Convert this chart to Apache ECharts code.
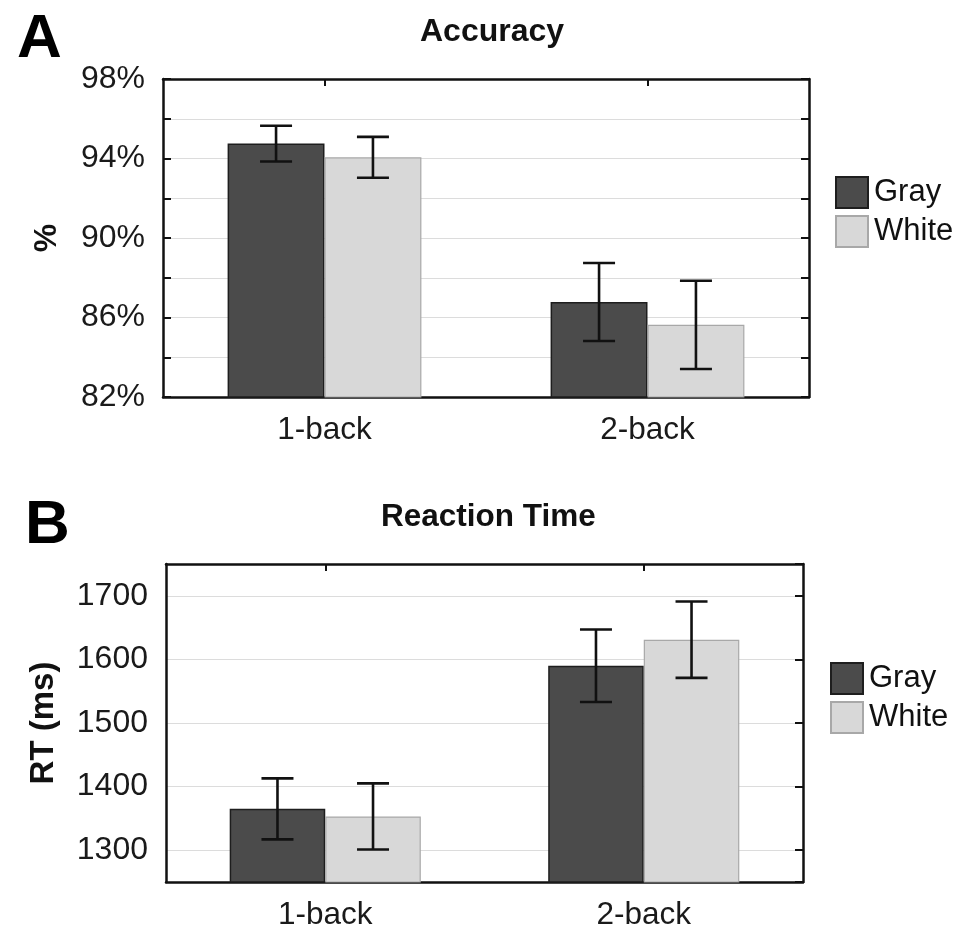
<!DOCTYPE html>
<html>
<head>
<meta charset="utf-8">
<script src="https://cdn.jsdelivr.net/npm/echarts@6/dist/echarts.min.js"></script>
<style>
html,body{margin:0;padding:0;background:#fff;}
#chart{width:960px;height:934px;}
</style>
</head>
<body>
<div id="chart"></div>
<script>
// ---- data ----
const categories = ['1-back', '2-back'];
const seriesNames = ['Gray', 'White'];

// Accuracy (%)
const accGray = [94.75, 86.78];
const accGrayErr = [0.9, 1.96];
const accWhite = [94.06, 85.63];
const accWhiteErr = [1.03, 2.22];

// Reaction time (ms)
const rtGray = [1365, 1590];
const rtGrayErr = [48, 57];
const rtWhite = [1353, 1631];
const rtWhiteErr = [52, 60];

const accTicks = [82, 86, 90, 94, 98];
const rtTicks = [1300, 1400, 1500, 1600, 1700];

// ---- styles ----
const FONT = "'Liberation Sans', Arial, sans-serif";
const GRAY_COLOR = '#4b4b4b';
const WHITE_COLOR = '#d8d8d8';
const AXIS_COLOR = '#111';
const GRID_COLOR = '#dcdcdc';
const LABEL_COLOR = '#1a1a1a';

function errData(vals, errs) {
  return vals.map((v, i) => [i, v - errs[i], v + errs[i]]);
}

function errRender(offsetFrac) {
  return function (params, api) {
    const idx = api.value(0);
    const lo = api.coord([idx, api.value(1)]);
    const hi = api.coord([idx, api.value(2)]);
    const bw = api.size([1, 0])[0];
    const x = lo[0] + bw * offsetFrac;
    const cap = 16;
    const style = { stroke: '#111', lineWidth: 2.6 };
    return {
      type: 'group',
      children: [
        { type: 'line', shape: { x1: x, y1: hi[1], x2: x, y2: lo[1] }, style: style },
        { type: 'line', shape: { x1: x - cap, y1: hi[1], x2: x + cap, y2: hi[1] }, style: style },
        { type: 'line', shape: { x1: x - cap, y1: lo[1], x2: x + cap, y2: lo[1] }, style: style }
      ]
    };
  };
}

const axisLine = { show: true, onZero: false, lineStyle: { color: AXIS_COLOR, width: 2.5 } };

function xAxes(gridIndex) {
  return [
    {
      type: 'category', gridIndex: gridIndex, data: categories, position: 'bottom',
      axisLine: axisLine, axisTick: { show: false },
      axisLabel: { fontFamily: FONT, fontSize: 31.5, color: LABEL_COLOR, margin: 17 }
    },
    {
      type: 'category', gridIndex: gridIndex, data: categories, position: 'top',
      axisLine: axisLine,
      axisTick: { show: true, inside: true, alignWithLabel: true, length: 7, lineStyle: { color: AXIS_COLOR, width: 2 } },
      axisLabel: { show: false }
    }
  ];
}

const legendText = { fontFamily: FONT, fontSize: 31, color: '#111', padding: [0, 0, 0, 1] };

const option = {
  animation: false,
  backgroundColor: '#fff',
  title: [
    { text: 'A', left: 12, top: 4, textStyle: { fontFamily: FONT, fontSize: 62, fontWeight: 'bold', color: '#000' } },
    { text: 'Accuracy', left: 415, top: 11, textStyle: { fontFamily: FONT, fontSize: 32, fontWeight: 'bold', color: '#111' } },
    { text: 'B', left: 20, top: 490, textStyle: { fontFamily: FONT, fontSize: 62, fontWeight: 'bold', color: '#000' } },
    { text: 'Reaction Time', left: 376, top: 496, textStyle: { fontFamily: FONT, fontSize: 31.5, fontWeight: 'bold', color: '#111' } }
  ],
  legend: [
    {
      orient: 'vertical', left: 830, top: 171, itemWidth: 32, itemHeight: 31, itemGap: 6,
      data: seriesNames, icon: 'rect', textStyle: legendText
    },
    {
      orient: 'vertical', left: 825, top: 657, itemWidth: 32, itemHeight: 31, itemGap: 6,
      data: seriesNames, icon: 'rect', textStyle: legendText
    }
  ],
  grid: [
    { left: 163, top: 79, width: 646, height: 318 },
    { left: 166, top: 564, width: 637, height: 318 }
  ],
  xAxis: [].concat(xAxes(0), xAxes(1)),
  yAxis: [
    {
      type: 'value', gridIndex: 0, min: 82, max: 98, interval: 2, position: 'left',
      name: '%', nameLocation: 'middle', nameGap: 100, nameRotate: 90,
      nameTextStyle: { fontFamily: FONT, fontSize: 32, fontWeight: 'bold', color: '#111' },
      axisLine: axisLine,
      axisTick: { show: true, inside: true, length: 8, lineStyle: { color: AXIS_COLOR, width: 2 } },
      axisLabel: {
        fontFamily: FONT, fontSize: 32, color: LABEL_COLOR, margin: 18,
        formatter: function (v) { return accTicks.indexOf(v) >= 0 ? v + '%' : ''; }
      },
      splitLine: { show: true, lineStyle: { color: GRID_COLOR, width: 1.2 } }
    },
    {
      type: 'value', gridIndex: 0, min: 82, max: 98, interval: 2, position: 'right',
      axisLine: axisLine,
      axisTick: { show: true, inside: true, length: 8, lineStyle: { color: AXIS_COLOR, width: 2 } },
      axisLabel: { show: false }, splitLine: { show: false }
    },
    {
      type: 'value', gridIndex: 1, min: 1250, max: 1750, splitNumber: 5, position: 'left',
      name: 'RT (ms)', nameLocation: 'middle', nameGap: 106, nameRotate: 90,
      nameTextStyle: { fontFamily: FONT, fontSize: 33, fontWeight: 'bold', color: '#111' },
      axisLine: axisLine,
      axisTick: { show: false },
      axisLabel: {
        fontFamily: FONT, fontSize: 32, color: LABEL_COLOR, margin: 18,
        formatter: function (v) { return rtTicks.indexOf(v) >= 0 ? String(v) : ''; }
      },
      splitLine: { show: true, lineStyle: { color: GRID_COLOR, width: 1.2 } }
    },
    {
      type: 'value', gridIndex: 1, min: 1250, max: 1750, splitNumber: 5, position: 'right',
      axisLine: axisLine,
      axisTick: { show: true, inside: true, length: 8, lineStyle: { color: AXIS_COLOR, width: 2 } },
      axisLabel: { show: false }, splitLine: { show: false }
    }
  ],
  series: [
    {
      name: 'Gray', type: 'bar', xAxisIndex: 0, yAxisIndex: 0, data: accGray,
      barWidth: '30%', barGap: '0%',
      itemStyle: { color: GRAY_COLOR, borderColor: '#1e1e1e', borderWidth: 1.5 }
    },
    {
      name: 'White', type: 'bar', xAxisIndex: 0, yAxisIndex: 0, data: accWhite,
      barWidth: '30%', barGap: '0%',
      itemStyle: { color: WHITE_COLOR, borderColor: '#a8a8a8', borderWidth: 1.2 }
    },
    {
      type: 'custom', xAxisIndex: 0, yAxisIndex: 0, data: errData(accGray, accGrayErr),
      encode: { x: 0, y: [1, 2] }, renderItem: errRender(-0.15), z: 5
    },
    {
      type: 'custom', xAxisIndex: 0, yAxisIndex: 0, data: errData(accWhite, accWhiteErr),
      encode: { x: 0, y: [1, 2] }, renderItem: errRender(0.15), z: 5
    },
    {
      name: 'Gray', type: 'bar', xAxisIndex: 2, yAxisIndex: 2, data: rtGray,
      barWidth: '30%', barGap: '0%',
      itemStyle: { color: GRAY_COLOR, borderColor: '#1e1e1e', borderWidth: 1.5 }
    },
    {
      name: 'White', type: 'bar', xAxisIndex: 2, yAxisIndex: 2, data: rtWhite,
      barWidth: '30%', barGap: '0%',
      itemStyle: { color: WHITE_COLOR, borderColor: '#a8a8a8', borderWidth: 1.2 }
    },
    {
      type: 'custom', xAxisIndex: 2, yAxisIndex: 2, data: errData(rtGray, rtGrayErr),
      encode: { x: 0, y: [1, 2] }, renderItem: errRender(-0.15), z: 5
    },
    {
      type: 'custom', xAxisIndex: 2, yAxisIndex: 2, data: errData(rtWhite, rtWhiteErr),
      encode: { x: 0, y: [1, 2] }, renderItem: errRender(0.15), z: 5
    }
  ]
};

const chart = echarts.init(document.getElementById('chart'), null, { renderer: 'canvas' });
chart.setOption(option);
</script>
</body>
</html>
